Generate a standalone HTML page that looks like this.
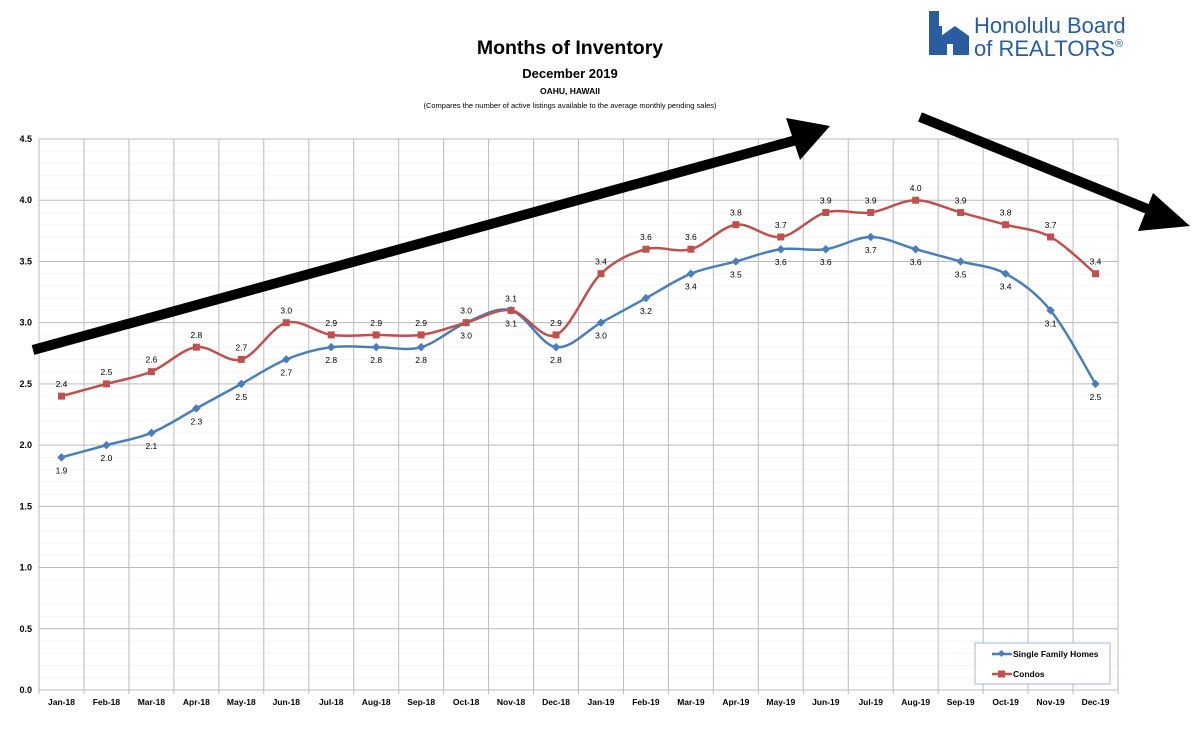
<!DOCTYPE html>
<html><head><meta charset="utf-8"><style>
body{margin:0;background:#fff;width:1202px;height:728px;overflow:hidden;font-family:"Liberation Sans",sans-serif}
</style></head><body>
<svg id="s" width="1202" height="728" xmlns="http://www.w3.org/2000/svg" font-family="Liberation Sans, sans-serif"></svg>
<script>
const s=document.getElementById('s');let h='';
const L=39,R=1118,T=139,B=690,n=24,cw=(R-L)/n;
const y=v=>B-(v/4.5)*(B-T), x=i=>L+cw*(i+0.5);
for(let v=0.1;v<4.5;v+=0.1){h+=`<line x1="${L}" x2="${R}" y1="${y(v)}" y2="${y(v)}" stroke="#f3f5fa" stroke-width="1"/>`}
for(let k=0;k<=9;k++){const yy=y(k*0.5);h+=`<line x1="${L}" x2="${R}" y1="${yy}" y2="${yy}" stroke="#bbb" stroke-width="1"/><text x="${L-7}" y="${yy+3}" font-size="9" font-weight="bold" text-anchor="end">${(k*0.5).toFixed(1)}</text>`}
const m=["Jan","Feb","Mar","Apr","May","Jun","Jul","Aug","Sep","Oct","Nov","Dec"];
for(let i=0;i<=n;i++){const xx=L+cw*i;h+=`<line x1="${xx}" x2="${xx}" y1="${T}" y2="${B+4}" stroke="#bbb" stroke-width="1"/>`}
for(let i=0;i<n;i++){h+=`<text x="${x(i)}" y="${B+15}" font-size="8.5" font-weight="bold" text-anchor="middle">${m[i%12]}-${i<12?18:19}</text>`}
const sf=[1.9,2.0,2.1,2.3,2.5,2.7,2.8,2.8,2.8,3.0,3.1,2.8,3.0,3.2,3.4,3.5,3.6,3.6,3.7,3.6,3.5,3.4,3.1,2.5];
const co=[2.4,2.5,2.6,2.8,2.7,3.0,2.9,2.9,2.9,3.0,3.1,2.9,3.4,3.6,3.6,3.8,3.7,3.9,3.9,4.0,3.9,3.8,3.7,3.4];
function path(d){const p=d.map((v,i)=>[x(i),y(v)]);let str=`M${p[0][0]},${p[0][1]}`;
for(let i=0;i<p.length-1;i++){const p0=p[i-1]||p[i],p1=p[i],p2=p[i+1],p3=p[i+2]||p2;const t=0.25;
str+=` C${p1[0]+(p2[0]-p0[0])*t/1.5},${p1[1]+(p2[1]-p0[1])*t/1.5} ${p2[0]-(p3[0]-p1[0])*t/1.5},${p2[1]-(p3[1]-p1[1])*t/1.5} ${p2[0]},${p2[1]}`}return str}
h+=`<path d="${path(sf)}" fill="none" stroke="#4a7ebb" stroke-width="2.5"/>`;
h+=`<path d="${path(co)}" fill="none" stroke="#c0504d" stroke-width="2.5"/>`;
sf.forEach((v,i)=>{const X=x(i),Y=y(v);h+=`<rect x="${X-3}" y="${Y-3}" width="6" height="6" fill="#4a7ebb" transform="rotate(45 ${X} ${Y})"/><text x="${X}" y="${Y+16}" font-size="8.5" text-anchor="middle">${v.toFixed(1)}</text>`});
co.forEach((v,i)=>{const X=x(i),Y=y(v);h+=`<rect x="${X-3.5}" y="${Y-3.5}" width="7" height="7" fill="#c0504d"/><text x="${X}" y="${Y-9}" font-size="8.5" text-anchor="middle">${v.toFixed(1)}</text>`});
h+=`<rect x="975" y="643" width="135" height="41" fill="#fff" stroke="#9db8dc"/>
<line x1="992" x2="1012" y1="654" y2="654" stroke="#4a7ebb" stroke-width="2.5"/><rect x="999" y="651" width="5" height="5" fill="#4a7ebb" transform="rotate(45 1001.5 653.5)"/>
<text x="1013" y="657" font-size="8.5" font-weight="bold">Single Family Homes</text>
<line x1="992" x2="1012" y1="674" y2="674" stroke="#c0504d" stroke-width="2.5"/><rect x="998" y="670.5" width="7" height="7" fill="#c0504d"/>
<text x="1013" y="677" font-size="8.5" font-weight="bold">Condos</text>`;
h+=`<text x="570" y="54" font-size="19.5" font-weight="bold" text-anchor="middle">Months of Inventory</text>
<text x="570" y="78" font-size="13" font-weight="bold" text-anchor="middle">December 2019</text>
<text x="570" y="94" font-size="8.5" font-weight="bold" text-anchor="middle">OAHU, HAWAII</text>
<text x="570" y="108" font-size="7.5" text-anchor="middle">(Compares the number of active listings available to the average monthly pending sales)</text>`;
h+=`<rect x="929" y="11" width="10" height="44" fill="#2a5d9f"/><polygon points="941,55 941,36 955,26 969,36 969,55" fill="#2a5d9f"/><rect x="947" y="44" width="6" height="11" fill="#fff"/><rect x="939" y="26" width="3" height="29" fill="#2a5d9f"/>
<text x="974" y="33" font-size="22" fill="#2a5d9f">Honolulu Board</text><text x="974" y="56" font-size="22" fill="#2a5d9f">of REALTORS<tspan font-size="11" dy="-9">®</tspan></text>`;
h+=`<line x1="33" y1="350" x2="800" y2="139" stroke="#000" stroke-width="10"/><polygon points="830,126 786,118 800,160" fill="#000"/>
<line x1="920" y1="117" x2="1155" y2="212" stroke="#000" stroke-width="10"/><polygon points="1190,226 1153,193 1138,231" fill="#000"/>`;
s.innerHTML=h;
</script>
</body></html>
